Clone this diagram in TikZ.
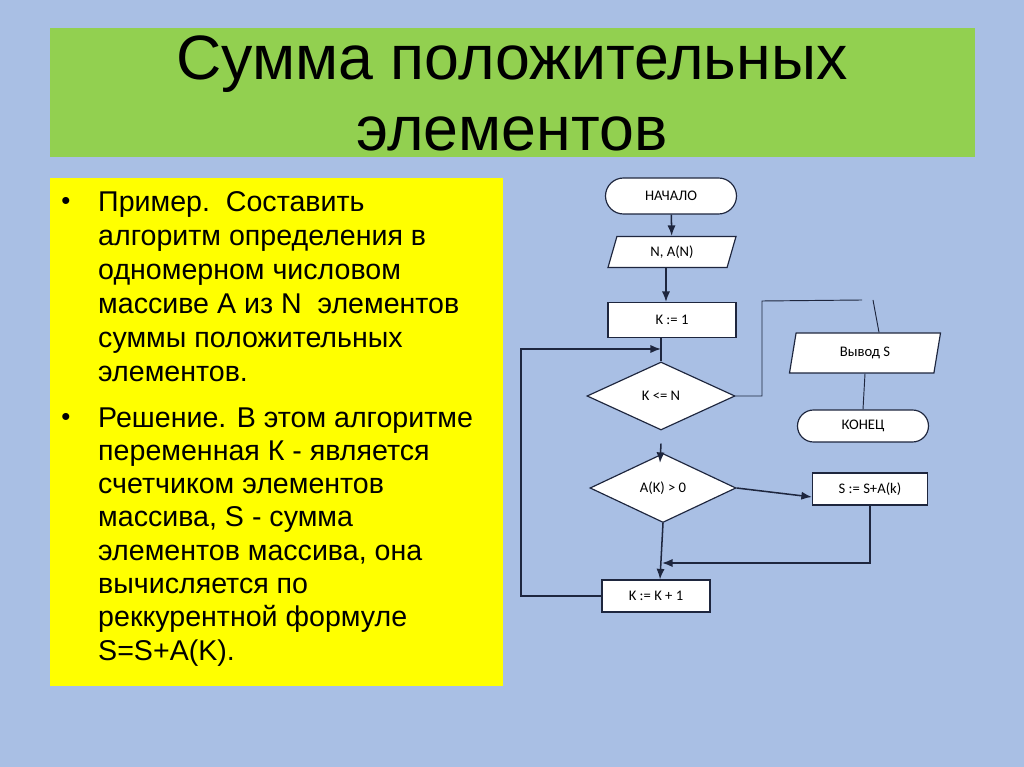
\documentclass[tikz,border=0pt]{standalone}
\usepackage{fontspec}
\setmainfont{Liberation Sans}
\newfontfamily\flowfont{Carlito}
\usetikzlibrary{shapes.geometric,shapes.misc,calc,arrows.meta}

\definecolor{slideblue}{RGB}{169,191,228}
\definecolor{titlegreen}{RGB}{146,208,80}
\definecolor{noteyellow}{RGB}{255,255,0}
\definecolor{flowline}{RGB}{30,38,62}

\tikzset{
blk/.style={
draw=flowline,
fill=white,
line width=1pt,
font=\flowfont\fontsize{12.5}{14}\selectfont,
inner sep=0pt
},
term/.style={blk, rounded rectangle},
io/.style={blk, trapezium, trapezium stretches body, trapezium left angle=#1, trapezium right angle=180-#1},
proc/.style={blk, rectangle},
test/.style={blk, diamond, aspect=2},
link/.style={draw=flowline, line width=1.3pt},
arr/.style={link, -{Latex[length=9pt,width=7pt]}}
}

\begin{document}
\begin{tikzpicture}[x=0.03cm,y=-0.03cm]

\fill[slideblue] (0,0) rectangle (1024,767);
\useasboundingbox (0,0) rectangle (1024,767);

% title
\fill[titlegreen] (50,28) rectangle (975,157);
\node[anchor=base, align=center, font=\fontsize{53.5}{61}\selectfont] (title) at (512,151)
{Сумма положительных\\элементов};

% text block
\fill[noteyellow] (50,178) rectangle (503,686);
\node[anchor=base, font=\fontsize{22}{29}\selectfont] (b1) at (66,210) {•};
\node[anchor=base west, align=left, inner sep=0pt,
font=\fontsize{24.4}{29.1}\selectfont] (p1) at (98,382)
{Пример.\ \ Составить\\алгоритм определения в\\одномерном числовом\\массиве А из N\ \ элементов\\суммы положительных\\элементов.};
\node[anchor=base, font=\fontsize{22}{29}\selectfont] (b2) at (66,426) {•};
\node[anchor=base west, align=left, inner sep=0pt,
font=\fontsize{24.4}{28.4}\selectfont] (p2) at (98,660)
{Решение. В этом алгоритме\\переменная К - является\\счетчиком элементов\\массива, S - сумма\\элементов массива, она\\вычисляется по\\реккурентной формуле\\S=S+A(K).};

% flowchart
\node[term, minimum width=3.93cm, minimum height=1.08cm] (start) at (671,196) {НАЧАЛО};
\node[io=55, minimum width=3.84cm, minimum height=0.93cm] (input) at (672,252) {N, A(N)};
\node[proc, minimum width=3.84cm, minimum height=1.05cm] (init) at (672,320) {K := 1};
\node[test, minimum width=4.44cm, minimum height=2.04cm] (cond) at (661,396) {K <= N};
\node[io=61, minimum width=4.53cm, minimum height=1.2cm] (out) at (865,353) {Вывод S};
\node[term, minimum width=3.93cm, minimum height=0.96cm] (end) at (863,426) {КОНЕЦ};
\node[test, minimum width=4.38cm, minimum height=2.07cm] (pos) at (663,488) {A(K) > 0};
\node[proc, minimum width=3.45cm, minimum height=0.96cm] (add) at (870,489) {S := S+A(k)};
\node[proc, minimum width=3.24cm, minimum height=0.96cm] (inc) at (656,596) {K := K + 1};

\coordinate (loop) at (521,349);
\coordinate (turn) at (762,301);
\coordinate (gapA) at (862,300);
\coordinate (gapB) at (873,300);
\coordinate (join) at (662,563);

\draw[arr] (start) -- (input);
\draw[arr] (input.south -| 666,0) -- (init.north -| 666,0);
\draw[link] (init.south -| cond.north) -- (cond.north);
\draw[arr] (inc.west) -| (loop) -- (loop -| cond.north);
\draw[link, line width=0.8pt] (cond.east) -| (turn) -- (gapA);
\draw[link, line width=0.8pt] (gapB) -- ($(out.north)+(14,0)$);
\draw[link, line width=0.8pt] (out.south) -- (end.north);
\draw[arr] ($(cond.south)+(0,13)$) -- ($(pos.north)+(-3,10)$);
\draw[arr] (pos.east) -- ($(add.west)+(0,8)$);
\draw[arr] (add.south) |- (join);
\draw[arr] (pos.south) -- ($(inc.north)+(4,0)$);

\end{tikzpicture}
\end{document}
